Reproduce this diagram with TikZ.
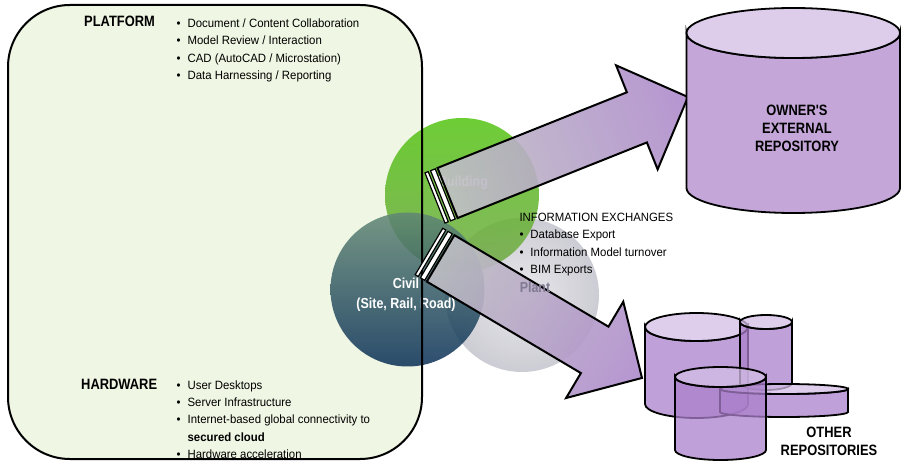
\documentclass[tikz,border=0pt]{standalone}
\usepackage{fontspec}
\setmainfont{Liberation Sans}[FakeStretch=0.95]
\newfontfamily\narrowfont{Liberation Sans}[FakeStretch=0.86]

\definecolor{panelfill}{RGB}{239,246,227}
\definecolor{greentop}{RGB}{84,196,18}
\definecolor{greenbot}{RGB}{112,168,70}
\definecolor{civiltop}{RGB}{96,134,116}
\definecolor{civilbot}{RGB}{8,46,86}
\definecolor{plantin}{RGB}{230,230,234}
\definecolor{plantout}{RGB}{200,200,208}
\definecolor{plantgray}{RGB}{128,122,146}
\definecolor{arrowgray}{RGB}{192,192,197}
\definecolor{arrowlav}{RGB}{206,190,226}
\definecolor{arrowpurple}{RGB}{174,138,204}
\definecolor{cylside}{RGB}{196,167,216}
\definecolor{cyltopc}{RGB}{221,205,234}
\definecolor{cylsideT}{RGB}{171,128,203}
\definecolor{cyltopT}{RGB}{211,190,230}

% bullet list helpers
\newcommand{\bitem}{\strut\makebox[11pt][l]{\textbullet}}
\newcommand{\bcont}{\strut\hspace*{11pt}}

% striped block arrow along +x, tail at origin, total length #1
\newcommand{\stripedarrow}[1]{%
  \filldraw[stripebar] (0,-27) rectangle (3.5,27);
  \filldraw[stripebar] (6,-27) rectangle (11,27);
  \shadedraw[arrowbody] (13.5,-27) -- ({#1-55},-27) -- ({#1-55},-56) -- (#1,0)
    -- ({#1-55},56) -- ({#1-55},27) -- (13.5,27) -- cycle;
}

% cylinder: [style] {cx}{rx}{ytop}{ybottom}{ry}
\newcommand{\drawcylinder}[6][]{%
  \path[cylbody,#1] ({#2-#3},#4) -- ({#2-#3},#5)
    arc[start angle=180,end angle=360,x radius=#3,y radius=#6]
    -- ({#2+#3},#4)
    arc[start angle=0,end angle=-180,x radius=#3,y radius=#6] -- cycle;
  \path[cyltop,#1] (#2,#4) ellipse[x radius=#3,y radius=#6];
}

\begin{document}
\begin{tikzpicture}[x=1pt,y=1pt,
  panelbox/.style={rectangle, rounded corners=62pt, minimum width=414pt,
    minimum height=454pt, inner sep=0, outer sep=0, fill=panelfill},
  disc/.style={circle, minimum size=154pt, inner sep=0, outer sep=0, draw=none},
  headtext/.style={font=\narrowfont\bfseries\fontsize{15}{18}\selectfont, inner sep=0},
  listtext/.style={font=\fontsize{12}{17.2}\selectfont, align=left, inner sep=0,
    anchor=north west},
  circlabel/.style={font=\narrowfont\bfseries\fontsize{14.5}{20}\selectfont,
    align=center, inner sep=0},
  repolabel/.style={font=\narrowfont\bfseries\fontsize{15}{18}\selectfont,
    align=center, inner sep=0},
  stripebar/.style={fill=white, draw=black, line width=1.2pt},
  arrowbody/.style={draw=black, line width=2pt, left color=arrowgray,
    middle color=arrowlav, right color=arrowpurple, fill opacity=0.9},
  cylbody/.style={draw=black, line width=1.8pt, fill=cylside},
  cyltop/.style={draw=black, line width=1.8pt, fill=cyltopc},
  glassy/.style={fill opacity=0.75, cylbody/.append style={fill=cylsideT},
    cyltop/.append style={fill=cyltopT}}
]
\useasboundingbox (0,0) rectangle (903,461);

% left panel background
\node[panelbox] (panel) at (215,229) {};

% the three discipline circles
\node[disc, inner color=plantin, outer color=plantout, opacity=0.92] (plant) at (522,166) {};
\node[disc, top color=greentop, bottom color=greenbot, opacity=0.85] (bldg) at (462,266) {};
\node[disc, top color=civiltop, bottom color=civilbot, opacity=0.85] (civil) at (407.5,171.5) {};

\node[circlabel, text=white] (bldglabel) at (463,278) {Building};
\node[circlabel, text=white] (civillabel) at (406,166) {Civil\\(Site, Rail, Road)};

% panel outline
\draw[line width=2pt, rounded corners=62pt] (panel.south west) rectangle (panel.north east);

% panel texts
\node[headtext, anchor=base west] (plathead) at (84,434.3) {PLATFORM};
\node[listtext] (platlist) at (176.4,445.5) {%
  \bitem Document / Content Collaboration\\
  \bitem Model Review / Interaction\\
  \bitem CAD (AutoCAD / Microstation)\\
  \bitem Data Harnessing / Reporting};
\node[headtext, anchor=base west] (hwhead) at (81,71) {HARDWARE};
\node[listtext] (hwlist) at (176.4,83.7) {%
  \bitem User Desktops\\
  \bitem Server Infrastructure\\
  \bitem Internet-based global connectivity to\\
  \bcont\textbf{secured cloud}\\
  \bitem Hardware acceleration};

% information exchange arrows
\begin{scope}[transform canvas={shift={(435,263)}, rotate=21.77}]
  \stripedarrow{272.4}
\end{scope}
\begin{scope}[transform canvas={shift={(429,209.5)}, rotate=-30.7}]
  \stripedarrow{247.7}
\end{scope}

\node[circlabel, text=plantgray] (plantlabel) at (535,173.5) {Plant};

\node[listtext] (infolist) at (519.3,251.5) {%
  \strut INFORMATION EXCHANGES\\
  \bitem Database Export\\
  \bitem Information Model turnover\\
  \bitem BIM Exports};

% owner's repository
\drawcylinder{793.25}{106.75}{428}{273}{25}
\node[repolabel] (ownerlabel) at (797,333) {OWNER'S\\EXTERNAL\\REPOSITORY};

% other repositories
\begin{scope}[glassy]
  \drawcylinder[glassy]{696.5}{51.5}{134}{57}{14}
  \drawcylinder[glassy]{766}{26}{139}{78}{7}
  \drawcylinder[glassy]{784}{64}{72}{49}{5}
  \drawcylinder[glassy]{720.5}{45.5}{84}{11}{10}
\end{scope}
\node[repolabel] (otherlabel) at (829,20) {OTHER\\REPOSITORIES};
\end{tikzpicture}
\end{document}
